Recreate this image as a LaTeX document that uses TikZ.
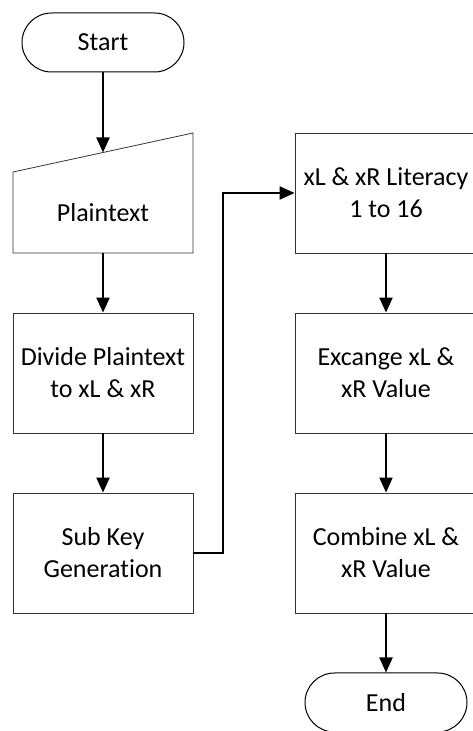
\documentclass[tikz,border=0pt]{standalone}
\usepackage{fontspec}
\setmainfont{Carlito}[Ligatures=NoCommon]
\usetikzlibrary{arrows.meta}
\begin{document}
\begin{tikzpicture}[x=1pt,y=1pt,
  every node/.style={font=\fontsize{26}{32}\selectfont, text=black, align=center, inner sep=0pt},
  procbox/.style={draw=black!80, line width=0.8pt, minimum width=180pt, minimum height=120pt},
  termbox/.style={draw=black, line width=1pt, minimum width=162pt, minimum height=59pt, rounded corners=29.5pt},
  flow/.style={draw=black, line width=2pt, -{Triangle[width=13pt,length=15pt]}}
]
\useasboundingbox (0,0) rectangle (472,731);
\node[termbox] (start) at (103,688.5) {Start};
\draw[draw=black!80, line width=0.8pt] (13,559) -- (193,598) -- (193,478) -- (13,478) -- cycle;
\node (plain) at (103,518) {Plaintext};
\coordinate (plaintop) at (103,578.5);
\node[procbox] (divide) at (103,358) {Divide Plaintext\\to xL \& xR};
\node[procbox] (subkey) at (103,178) {Sub Key\\Generation};
\node[procbox, minimum width=182pt] (lit) at (386,538) {xL \& xR Literacy\\1 to 16};
\node[procbox, minimum width=182pt] (exc) at (386,358) {Excange xL \&\\xR Value};
\node[procbox, minimum width=182pt] (comb) at (386,178) {Combine xL \&\\xR Value};
\node[termbox] (end) at (386,28.5) {End};
\coordinate (turn) at (223,178);
\draw[flow] (start) -- (plaintop);
\draw[flow] (103,478) -- (divide);
\draw[flow] (divide) -- (subkey);
\draw[flow] (subkey.east) -- (turn) |- (lit.west);
\draw[flow] (lit) -- (exc);
\draw[flow] (exc) -- (comb);
\draw[flow] (comb) -- (end);
\end{tikzpicture}
\end{document}
